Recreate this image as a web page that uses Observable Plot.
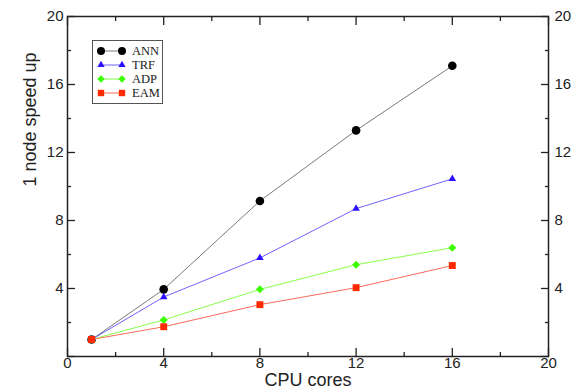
<!DOCTYPE html>
<html>
<head>
<meta charset="utf-8">
<script src="https://cdn.jsdelivr.net/npm/d3@7"></script>
<script src="https://cdn.jsdelivr.net/npm/@observablehq/plot@0.6"></script>
<style>
  html, body { margin: 0; padding: 0; background: #fff; }
  #wrap { position: relative; width: 573px; height: 391px; }
  #legend { position: absolute; left: 92px; top: 40px; }
</style>
</head>
<body>
<div id="wrap"></div>
<script>
const cores = [1, 4, 8, 12, 16];
const ann = [1.0, 3.95, 9.15, 13.3, 17.1];
const trf = [1.0, 3.5, 5.8, 8.7, 10.45];
const adp = [1.0, 2.15, 3.95, 5.4, 6.4];
const eam = [1.0, 1.75, 3.05, 4.05, 5.35];

const seriesNames = ["ANN", "TRF", "ADP", "EAM"];
const seriesValues = [ann, trf, adp, eam];
const lineColors = ["#7a7a7a", "#6f63ff", "#86ff4a", "#ff6a5a"];
const markColors = ["#000000", "#2a10ff", "#3cff00", "#ff2a00"];
const symbols = ["circle", "triangle", "diamond2", "square"];
const radii = [4.3, 2.8, 3.6, 3.9];
const legendRadii = [4.0, 2.7, 3.4, 3.6];

const xMajor = [0, 4, 8, 12, 16, 20];
const xMinor = [2, 6, 10, 14, 18];
const yLabels = [4, 8, 12, 16, 20];
const yMajor = [0, 4, 8, 12, 16, 20];
const yMinor = [2, 6, 10, 14, 18];

const rows = [];
seriesNames.forEach((s, si) => cores.forEach((c, i) => rows.push({series: s, si, x: c, y: seriesValues[si][i]})));

const marks = [];
seriesNames.forEach((s, si) => {
  const d = rows.filter(r => r.series === s);
  marks.push(Plot.line(d, {x: "x", y: "y", stroke: lineColors[si], strokeWidth: 1}));
  marks.push(Plot.dot(d, {x: "x", y: "y", symbol: () => symbols[si], r: radii[si], fill: markColors[si], stroke: "none"}));
});

const noText = () => "";
const chart = Plot.plot({
  width: 573,
  height: 391,
  marginLeft: 67,
  marginRight: 25,
  marginTop: 16,
  marginBottom: 35,
  x: {domain: [0, 20]},
  y: {domain: [0, 20]},
  symbol: {type: "identity"},
  style: {fontFamily: "'Liberation Sans', Arimo, sans-serif", fontSize: "15px", background: "#fff", color: "#222"},
  marks: [
    ...marks,
    Plot.frame({stroke: "#222", strokeWidth: 1.5}),
    // bottom
    Plot.axisX({anchor: "bottom", ticks: xMajor, tickSize: -8, tickPadding: 9, tickFormat: d => d, label: null, strokeWidth: 1.3}),
    Plot.axisX({anchor: "bottom", ticks: xMinor, tickSize: -4, tickFormat: noText, label: null, strokeWidth: 1.3}),
    // top
    Plot.axisX({anchor: "top", ticks: xMajor, tickSize: -8, tickFormat: noText, label: null, strokeWidth: 1.3}),
    Plot.axisX({anchor: "top", ticks: xMinor, tickSize: -4, tickFormat: noText, label: null, strokeWidth: 1.3}),
    // left
    Plot.axisY({anchor: "left", ticks: yMajor, tickSize: -8, tickFormat: noText, label: null, strokeWidth: 1.3}),
    Plot.axisY({anchor: "left", ticks: yLabels, tickSize: 0, tickPadding: 4, tickFormat: d => d, label: null}),
    Plot.axisY({anchor: "left", ticks: yMinor, tickSize: -4, tickFormat: noText, label: null, strokeWidth: 1.3}),
    // right
    Plot.axisY({anchor: "right", ticks: yMajor, tickSize: -8, tickFormat: noText, label: null, strokeWidth: 1.3}),
    Plot.axisY({anchor: "right", ticks: yLabels, tickSize: 0, tickPadding: 6, tickFormat: d => d, label: null}),
    Plot.axisY({anchor: "right", ticks: yMinor, tickSize: -4, tickFormat: noText, label: null, strokeWidth: 1.3}),
    // axis titles
    Plot.text(["1 node speed up"], {frameAnchor: "left", rotate: -90, dx: -37, fontSize: 18, fill: "#222"}),
    Plot.text(["CPU cores"], {frameAnchor: "bottom", dy: 29, fontSize: 18, fill: "#222"})
  ]
});
document.getElementById("wrap").appendChild(chart);

// legend
const lg = d3.select("#wrap").append("svg").attr("id", "legend").attr("width", 72).attr("height", 65);
lg.append("rect").attr("x", 0.5).attr("y", 0.5).attr("width", 70).attr("height", 63)
  .attr("fill", "#fff").attr("stroke", "#555").attr("stroke-width", 1);
const rowY = [11, 25, 39, 53];
const symTypes = {circle: d3.symbolCircle, triangle: d3.symbolTriangle, diamond2: d3.symbolDiamond2, square: d3.symbolSquare};
seriesNames.forEach((s, si) => {
  const g = lg.append("g").attr("transform", `translate(0,${rowY[si]})`);
  g.append("line").attr("x1", 9).attr("x2", 30).attr("y1", 0).attr("y2", 0).attr("stroke", lineColors[si]).attr("stroke-width", 1);
  const path = d3.symbol(symTypes[symbols[si]], Math.PI * legendRadii[si] * legendRadii[si])();
  [9, 30].forEach(x => g.append("path").attr("d", path).attr("transform", `translate(${x},0)`).attr("fill", markColors[si]));
  g.append("text").attr("x", 40).attr("y", 0).attr("dy", "0.35em").text(s)
    .attr("font-family", "'Liberation Serif', 'Times New Roman', serif").attr("font-size", 12.5).attr("fill", "#222");
});
</script>
</body>
</html>
